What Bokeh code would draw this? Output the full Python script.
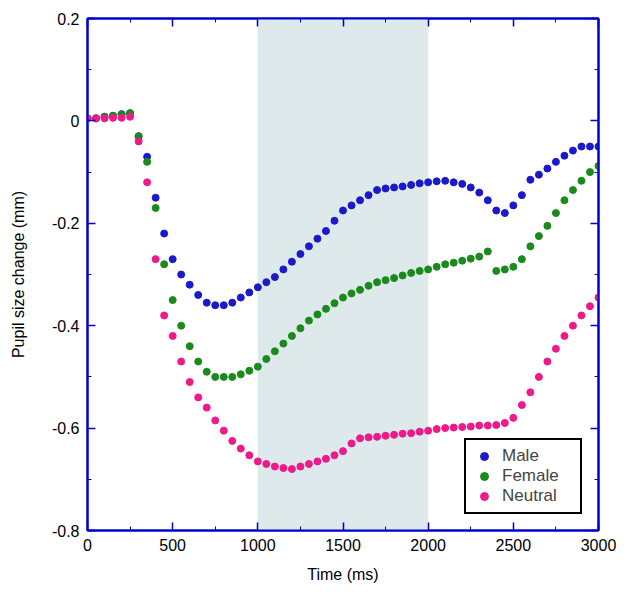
from bokeh.plotting import figure
from bokeh.models import (BoxAnnotation, LinearAxis, FixedTicker, CustomJSTickFormatter,
                          Range1d, Legend, LegendItem)
from bokeh.embed import file_html
from bokeh.resources import INLINE

time_ms = list(range(0, 3001, 50))

male = [0.005, 0.005, 0.008, 0.01, 0.013, 0.015,
        -0.03, -0.07, -0.15, -0.22, -0.27,
        -0.30, -0.32, -0.34, -0.355, -0.36,
        -0.36, -0.355, -0.345, -0.335, -0.325,
        -0.315, -0.305, -0.29, -0.275, -0.26,
        -0.245, -0.23, -0.215, -0.195, -0.175,
        -0.165, -0.155, -0.145, -0.135, -0.132,
        -0.13, -0.128, -0.125, -0.122, -0.12,
        -0.118, -0.117, -0.12, -0.123, -0.13,
        -0.14, -0.155, -0.175, -0.18, -0.165,
        -0.145, -0.115, -0.105, -0.093, -0.08,
        -0.068, -0.058, -0.05, -0.05, -0.05]

female = [0.005, 0.005, 0.008, 0.01, 0.013, 0.015,
          -0.03, -0.08, -0.17, -0.28, -0.35,
          -0.40, -0.44, -0.47, -0.49, -0.50,
          -0.50, -0.50, -0.495, -0.488, -0.48,
          -0.465, -0.45, -0.435, -0.42, -0.405,
          -0.39, -0.378, -0.367, -0.356, -0.345,
          -0.337, -0.33, -0.322, -0.315, -0.311,
          -0.307, -0.302, -0.297, -0.293, -0.29,
          -0.285, -0.28, -0.277, -0.273, -0.269,
          -0.265, -0.255, -0.293, -0.29, -0.285,
          -0.27, -0.245, -0.225, -0.205, -0.18,
          -0.155, -0.135, -0.117, -0.1, -0.088]

neutral = [0.005, 0.005, 0.005, 0.006, 0.006, 0.008,
           -0.04, -0.12, -0.27, -0.38, -0.42,
           -0.47, -0.51, -0.54, -0.56, -0.585,
           -0.605, -0.625, -0.64, -0.653, -0.665,
           -0.67, -0.675, -0.678, -0.68, -0.675,
           -0.67, -0.665, -0.66, -0.653, -0.645,
           -0.63, -0.62, -0.618, -0.617, -0.615,
           -0.613, -0.611, -0.61, -0.607, -0.605,
           -0.602, -0.60, -0.599, -0.598, -0.597,
           -0.595, -0.595, -0.594, -0.59, -0.58,
           -0.555, -0.53, -0.5, -0.47, -0.445,
           -0.42, -0.4, -0.38, -0.362, -0.345]

window = (1000, 2000)
x_ticks = [0, 500, 1000, 1500, 2000, 2500, 3000]
y_ticks = [0.2, 0, -0.2, -0.4, -0.6, -0.8]
x_minor = list(range(0, 3001, 250))
y_minor = [round(-0.8 + 0.1 * i, 2) for i in range(11)]

FONT = "Liberation Sans"
BLUE = "#0000cc"

p = figure(width=619, height=597, output_backend="svg", toolbar_location=None,
           x_range=Range1d(0, 3000), y_range=Range1d(-0.8, 0.2),
           min_border_left=87, min_border_right=21, min_border_top=18, min_border_bottom=67,
           x_axis_label="Time (ms)", y_axis_label="Pupil size change (mm)")
p.grid.visible = False
p.outline_line_color = BLUE
p.outline_line_width = 2

p.add_layout(BoxAnnotation(left=window[0], right=window[1], fill_color="#dde9ea",
                           fill_alpha=1.0, line_alpha=0, level="underlay"))

p.yaxis.formatter = CustomJSTickFormatter(code="return Math.abs(tick) < 1e-9 ? '0' : tick.toFixed(1);")
p.xaxis.ticker = FixedTicker(ticks=x_ticks, minor_ticks=x_minor)
p.yaxis.ticker = FixedTicker(ticks=y_ticks, minor_ticks=y_minor)
p.add_layout(LinearAxis(ticker=FixedTicker(ticks=x_ticks, minor_ticks=x_minor),
                        major_label_text_alpha=0), "above")
p.add_layout(LinearAxis(ticker=FixedTicker(ticks=y_ticks, minor_ticks=y_minor),
                        major_label_text_alpha=0), "right")
for ax in p.axis:
    ax.axis_line_color = BLUE
    ax.axis_line_width = 2
    ax.major_tick_line_color = BLUE
    ax.minor_tick_line_color = BLUE
    ax.major_tick_line_width = 1.5
    ax.major_tick_in = 8
    ax.major_tick_out = 0
    ax.minor_tick_in = 4
    ax.minor_tick_out = 0
    ax.major_label_text_font = FONT
    ax.major_label_text_font_size = "16px"
    ax.major_label_text_color = "black"
    ax.major_label_standoff = 8
    ax.axis_label_text_font = FONT
    ax.axis_label_text_font_size = "16px"
    ax.axis_label_text_font_style = "normal"
    ax.axis_label_text_color = "black"
    ax.axis_label_standoff = 12
p.yaxis[0].axis_label_standoff = 22
p.above[0].major_label_text_font_size = "1px"
p.right[0].major_label_text_font_size = "1px"

r1 = p.scatter(time_ms, male, size=7, color="#1a1acc")
r2 = p.scatter(time_ms, female, size=7, color="#1a8a1a")
r3 = p.scatter(time_ms, neutral, size=7, color="#ee1a8a")

legend = Legend(items=[LegendItem(label="Male", renderers=[r1]),
                       LegendItem(label="Female", renderers=[r2]),
                       LegendItem(label="Neutral", renderers=[r3])],
                location="bottom_right", label_text_font=FONT, label_text_font_size="17px",
                border_line_color="black", border_line_alpha=1.0, border_line_width=2,
                spacing=0, padding=6, margin=16, glyph_width=24, label_standoff=6,
                label_height=20, label_width=72)
p.add_layout(legend)

open("out.html", "w").write(file_html(p, INLINE))
